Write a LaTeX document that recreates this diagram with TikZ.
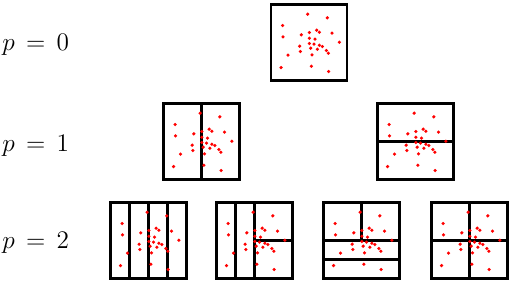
\documentclass[tikz,border=0pt]{standalone}
\usetikzlibrary{positioning}
\tikzset{cell/.style={rectangle,draw,line width=1.4pt,minimum size=1.52cm,inner sep=0pt,outer sep=0pt},cut/.style={line width=1.2pt},sample/.style={fill=red},level/.style={anchor=west,inner sep=0pt,font=\Large}}
% the same sample cloud in every cell (pixel offsets from the top left corner)
\newcommand{\cloud}[1]{%
  \begin{scope}[shift={(#1.north west)}]
    \foreach \px/\py in {36.7/9.7,56.3/13.3,11.7/21,12/32.3,30.3/30.3,38.3/28,45.7/25.7,48.3/27.7,61/28.7,38.3/33.7,44/34.7,68.3/37.7,38.3/39,43/39.7,48.3/40.7,51.3/42,28.7/41.7,39.7/43.7,46.3/44.7,55.3/46,57.3/48.7,29.3/47,41/50.3,17/50.7,10/63,40.3/61.7,57.7/67}
      \fill[sample] (\px,\py) circle (1pt);
  \end{scope}}
\newcommand{\lev}[1]{$p\mskip3mu=\mskip3mu#1$}

\begin{document}
\begin{tikzpicture}[x=0.02cm,y=-0.02cm]
\useasboundingbox (0,0) rectangle (510,282);
\node[level] (p0) at (2,45) {\lev{0}};
\node[level] (p1) at (2,146) {\lev{1}};
\node[level] (p2) at (2,243) {\lev{2}};
\node[cell] (root) at (309,42.5) {};
\node[cell] (splitx) at (201.5,141.5) {};
\node[cell] (splity) at (415.5,141.5) {};
\node[cell] (xx) at (148.5,240.5) {};
\node[cell] (xxy) at (254.5,240.5) {};
\node[cell] (yyx) at (361.5,240.5) {};
\node[cell] (xy) at (469.5,240.5) {};
\begin{scope}[shift={(splitx.north west)}]
  \draw[cut] (38,0) -- (38,76);
\end{scope}
\begin{scope}[shift={(splity.north west)}]
  \draw[cut] (0,38) -- (76,38);
\end{scope}
\begin{scope}[shift={(xx.north west)}]
  \foreach \cx in {19,38,57}
    \draw[cut] (\cx,0) -- (\cx,76);
\end{scope}
\begin{scope}[shift={(xxy.north west)}]
  \foreach \cx in {19,38}
    \draw[cut] (\cx,0) -- (\cx,76);
  \draw[cut] (38,38) -- (76,38);
\end{scope}
\begin{scope}[shift={(yyx.north west)}]
  \draw[cut] (38,0) -- (38,38);
  \draw[cut] (0,38) -- (76,38);
  \draw[cut] (0,57) -- (76,57);
\end{scope}
\begin{scope}[shift={(xy.north west)}]
  \draw[cut] (38,0) -- (38,76);
  \draw[cut] (0,38) -- (76,38);
\end{scope}
\foreach \cellname in {root,splitx,splity,xx,xxy,yyx,xy}
  {\cloud{\cellname}}
\end{tikzpicture}
\end{document}
